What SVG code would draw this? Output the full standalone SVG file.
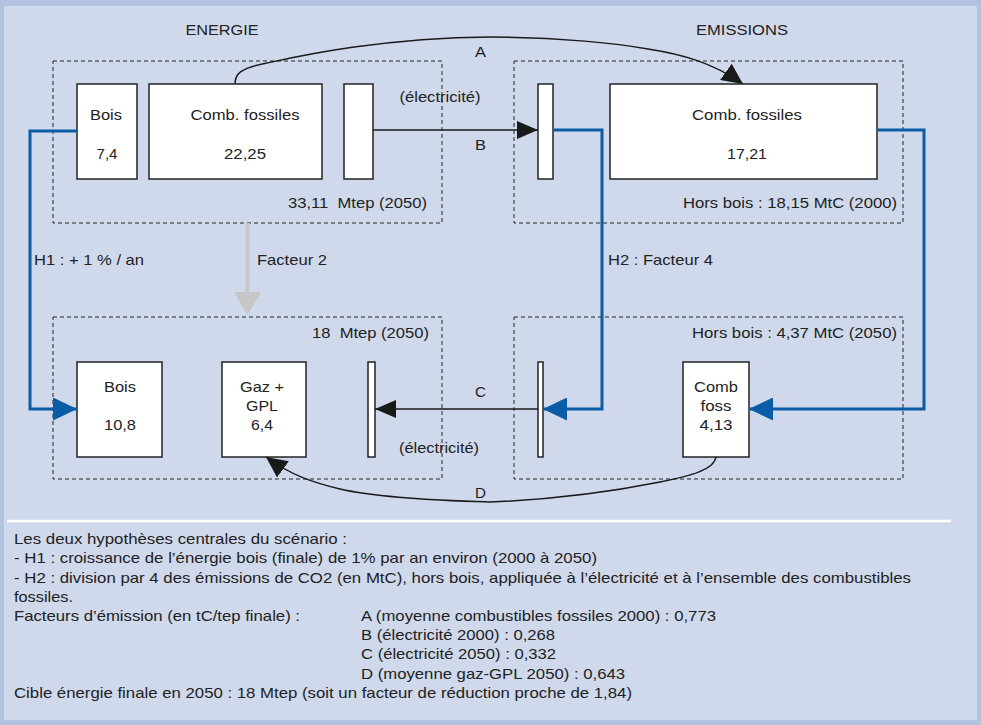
<svg xmlns="http://www.w3.org/2000/svg" width="981" height="725" viewBox="0 0 981 725">
<defs>
<style>
text{font-family:"Liberation Sans",Arial,sans-serif;font-size:15px;fill:#222;}
.m{text-anchor:middle;}
.e{text-anchor:end;}
.box{fill:#fff;stroke:#222;stroke-width:1.5;}
.grp{fill:none;stroke:#222;stroke-width:1;stroke-dasharray:4,3;}
.blk{fill:none;stroke:#1a1a1a;stroke-width:1.5;}
.blue{fill:none;stroke:#0a5ca6;stroke-width:3;}
.note{font-size:15px;}
</style>
<marker id="ab" markerUnits="userSpaceOnUse" viewBox="0 0 21 18" refX="21" refY="9" markerWidth="21" markerHeight="18" orient="auto">
<path d="M0,0 L21,9 L0,18 z" fill="#1a1a1a"/>
</marker>
<marker id="ac" markerUnits="userSpaceOnUse" viewBox="0 0 21 20" refX="21" refY="10" markerWidth="21" markerHeight="20" orient="auto">
<path d="M0,0 L21,10 L0,20 z" fill="#1a1a1a"/>
</marker>
<marker id="au" markerUnits="userSpaceOnUse" viewBox="0 0 24 23" refX="24" refY="11.5" markerWidth="24" markerHeight="23" orient="auto">
<path d="M0,0 L24,11.5 L0,23 z" fill="#0a5ca6"/>
</marker>
</defs>

<rect x="0" y="0" width="981" height="725" fill="#b3c3df"/>
<rect x="4" y="6" width="973" height="714" fill="#cfd9eb"/>

<text class="m" x="222" y="35" textLength="73" lengthAdjust="spacingAndGlyphs">ENERGIE</text>
<text class="m" x="742" y="35" textLength="92" lengthAdjust="spacingAndGlyphs">EMISSIONS</text>

<g id="energie-2000">
<rect class="grp" x="53" y="61" width="389" height="162"/>
<text class="e" x="427" y="208" textLength="139" lengthAdjust="spacingAndGlyphs">33,11&#160; Mtep (2050)</text>
</g>
<g id="emissions-2000">
<rect class="grp" x="514" y="61" width="389" height="162"/>
<text class="e" x="897" y="208" textLength="214" lengthAdjust="spacingAndGlyphs">Hors bois : 18,15 MtC (2000)</text>
</g>
<g id="energie-2050">
<rect class="grp" x="53" y="317" width="389" height="162"/>
<text class="e" x="429" y="338" textLength="117" lengthAdjust="spacingAndGlyphs">18&#160; Mtep (2050)</text>
</g>
<g id="emissions-2050">
<rect class="grp" x="514" y="317" width="389" height="162"/>
<text class="e" x="897" y="338" textLength="205" lengthAdjust="spacingAndGlyphs">Hors bois : 4,37 MtC (2050)</text>
</g>

<g id="bois-2000">
<rect class="box" x="77" y="84" width="60" height="95"/>
<text class="m" x="106" y="120" textLength="32" lengthAdjust="spacingAndGlyphs">Bois</text>
<text class="m" x="107" y="159" textLength="21" lengthAdjust="spacingAndGlyphs">7,4</text>
</g>
<g id="fossiles-energie-2000">
<rect class="box" x="149" y="84" width="173" height="95"/>
<text class="m" x="245" y="120" textLength="109" lengthAdjust="spacingAndGlyphs">Comb. fossiles</text>
<text class="m" x="245" y="159" textLength="42" lengthAdjust="spacingAndGlyphs">22,25</text>
</g>
<g id="elec-energie-2000">
<rect class="box" x="344" y="84" width="29" height="95"/>
</g>
<g id="elec-emissions-2000">
<rect class="box" x="538" y="84" width="15" height="95"/>
</g>
<g id="fossiles-emissions-2000">
<rect class="box" x="610" y="84" width="267" height="95"/>
<text class="m" x="747" y="120" textLength="110" lengthAdjust="spacingAndGlyphs">Comb. fossiles</text>
<text class="m" x="747" y="159" textLength="40" lengthAdjust="spacingAndGlyphs">17,21</text>
</g>

<g id="bois-2050">
<rect class="box" x="77" y="362" width="85" height="95"/>
<text class="m" x="120" y="392" textLength="32" lengthAdjust="spacingAndGlyphs">Bois</text>
<text class="m" x="120" y="430" textLength="32" lengthAdjust="spacingAndGlyphs">10,8</text>
</g>
<g id="gaz-gpl-2050">
<rect class="box" x="222" y="362" width="84" height="95"/>
<text class="m" x="262" y="392" textLength="44" lengthAdjust="spacingAndGlyphs">Gaz +</text>
<text class="m" x="262" y="411" textLength="32" lengthAdjust="spacingAndGlyphs">GPL</text>
<text class="m" x="262" y="430" textLength="22" lengthAdjust="spacingAndGlyphs">6,4</text>
</g>
<g id="elec-energie-2050">
<rect class="box" x="368" y="362" width="7" height="95"/>
</g>
<g id="elec-emissions-2050">
<rect class="box" x="538" y="362" width="5" height="95"/>
</g>
<g id="fossiles-emissions-2050">
<rect class="box" x="683" y="362" width="66" height="95"/>
<text class="m" x="716" y="392" textLength="44" lengthAdjust="spacingAndGlyphs">Comb</text>
<text class="m" x="716" y="411" textLength="31" lengthAdjust="spacingAndGlyphs">foss</text>
<text class="m" x="716" y="430" textLength="33" lengthAdjust="spacingAndGlyphs">4,13</text>
</g>

<g id="connectors">
<path class="blk" d="M235,84 C235,74 240,68 267,63 C300,56 380,38 490,37 C560,37 620,44 648,49 C680,54 712,62 743,84" marker-end="url(#ac)"/>
<path class="blk" d="M373,130 H538" marker-end="url(#ab)"/>
<path class="blk" d="M538,409 H375" marker-end="url(#ab)"/>
<path class="blk" d="M716,457 C714,470 690,476 660,482 C600,494 540,500 490,502 C420,500 370,496 340,489 C315,483 292,476 266,457" marker-end="url(#ac)"/>
<path class="blue" d="M77,131 H30 V409 H77" marker-end="url(#au)"/>
<path class="blue" d="M553,130 H602 V409 H543" marker-end="url(#au)"/>
<path class="blue" d="M877,130 H924 V409 H749" marker-end="url(#au)"/>
<line x1="247.5" y1="223" x2="247.5" y2="294" stroke="#c6c6c6" stroke-width="4"/>
<polygon points="234,292 261,292 247.5,315" fill="#c6c6c6"/>
<text x="475" y="57" textLength="11" lengthAdjust="spacingAndGlyphs">A</text>
<text x="475" y="150" textLength="11" lengthAdjust="spacingAndGlyphs">B</text>
<text x="475" y="397" textLength="11" lengthAdjust="spacingAndGlyphs">C</text>
<text x="475" y="498" textLength="11" lengthAdjust="spacingAndGlyphs">D</text>
<text class="m" x="440" y="102" textLength="81" lengthAdjust="spacingAndGlyphs">(électricité)</text>
<text class="m" x="439" y="453" textLength="80" lengthAdjust="spacingAndGlyphs">(électricité)</text>
<text x="34" y="265" textLength="110" lengthAdjust="spacingAndGlyphs">H1 : + 1 % / an</text>
<text x="257" y="265" textLength="70" lengthAdjust="spacingAndGlyphs">Facteur 2</text>
<text x="608" y="265" textLength="105" lengthAdjust="spacingAndGlyphs">H2 : Facteur 4</text>
</g>

<line x1="7" y1="521" x2="951" y2="521" stroke="#ffffff" stroke-width="2.6"/>

<g id="notes">
<text class="note" x="14" y="544" textLength="333" lengthAdjust="spacingAndGlyphs">Les deux hypothèses centrales du scénario :</text>
<text class="note" x="14" y="563" textLength="583" lengthAdjust="spacingAndGlyphs">- H1 : croissance de l’énergie bois (finale) de 1% par an environ (2000 à 2050)</text>
<text class="note" x="14" y="583" textLength="897" lengthAdjust="spacingAndGlyphs">- H2 : division par 4 des émissions de CO2 (en MtC), hors bois, appliquée à l’électricité et à l’ensemble des combustibles</text>
<text class="note" x="14" y="602" textLength="59" lengthAdjust="spacingAndGlyphs">fossiles.</text>
<text class="note" x="14" y="621" textLength="286" lengthAdjust="spacingAndGlyphs">Facteurs d’émission (en tC/tep finale) :</text>
<text class="note" x="361" y="621" textLength="355" lengthAdjust="spacingAndGlyphs">A (moyenne combustibles fossiles 2000) : 0,773</text>
<text class="note" x="361" y="640" textLength="194" lengthAdjust="spacingAndGlyphs">B (électricité 2000) : 0,268</text>
<text class="note" x="361" y="659" textLength="195" lengthAdjust="spacingAndGlyphs">C (électricité 2050) : 0,332</text>
<text class="note" x="361" y="679" textLength="264" lengthAdjust="spacingAndGlyphs">D (moyenne gaz-GPL 2050) : 0,643</text>
<text class="note" x="14" y="698" textLength="618" lengthAdjust="spacingAndGlyphs">Cible énergie finale en 2050 : 18 Mtep (soit un facteur de réduction proche de 1,84)</text>
</g>
</svg>
